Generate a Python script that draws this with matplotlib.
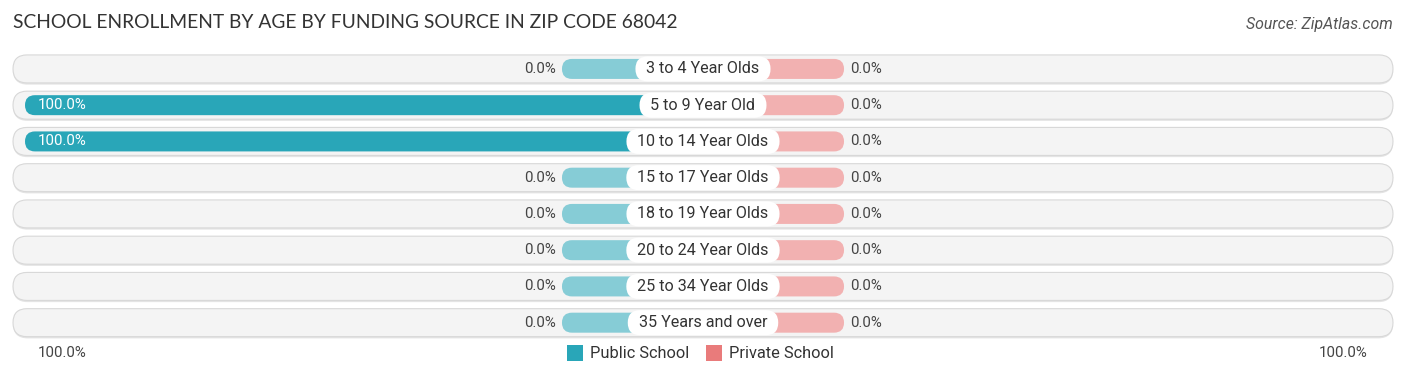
import matplotlib
matplotlib.use("Agg")
import matplotlib.pyplot as plt
from matplotlib.patches import FancyBboxPatch, Rectangle

categories = ["3 to 4 Year Olds", "5 to 9 Year Old", "10 to 14 Year Olds",
              "15 to 17 Year Olds", "18 to 19 Year Olds", "20 to 24 Year Olds",
              "25 to 34 Year Olds", "35 Years and over"]
public_vals = [0.0, 100.0, 100.0, 0.0, 0.0, 0.0, 0.0, 0.0]
private_vals = [0.0, 0.0, 0.0, 0.0, 0.0, 0.0, 0.0, 0.0]
series_names = ["Public School", "Private School"]
axis_label = "100.0%"

W, H = 1406, 377
fig = plt.figure(figsize=(W / 100, H / 100), dpi=100)
FONT = "Roboto"

cx = 703
half = 678
ax_left = (cx - half) / W
ax_w = 2 * half / W
ax_top_px, ax_bot_px = 50.8, 340.8
ax = fig.add_axes([ax_left, (H - ax_bot_px) / H, ax_w, (ax_bot_px - ax_top_px) / H])
n = len(categories)
ax.set_xlim(-100, 100)
ax.set_ylim(n - 0.5, -0.5)
ax.axis("off")

px_x = (2 * half) / 200.0           # pixels per x unit
px_y = (ax_bot_px - ax_top_px) / n  # pixels per y unit
aspect = px_x / px_y

pub_full = "#29a6b8"
pub_light = "#86ccd6"
priv_light = "#f2b1b1"
priv_full = "#e97b7b"

min_stub = 20.8  # display length for zero values (percent units)


def rbox(x0, x1, yc, h_px, fc, ec="none", lw=0, z=1, r_px=None):
    h = h_px / px_y
    if r_px is None:
        r_px = h_px / 2
    r = r_px / px_x
    p = FancyBboxPatch((x0 + r, yc - h / 2 + r * aspect), max(x1 - x0 - 2 * r, 1e-6),
                       max(h - 2 * r * aspect, 1e-6),
                       boxstyle=f"round,pad={r},rounding_size={r}",
                       mutation_aspect=aspect, fc=fc, ec=ec, lw=lw, zorder=z,
                       clip_on=False)
    ax.add_patch(p)
    return p


track_ext = 12 / px_x
for i, cat in enumerate(categories):
    # shadow + track
    rbox(-100 - track_ext, 100 + track_ext, i + 1.2 / px_y, 29, "#e4e4e4", z=0.5)
    rbox(-100 - track_ext, 100 + track_ext, i, 28, "#f4f4f4", ec="#d8d8d8", lw=0.8, z=1)

    pv = public_vals[i]
    qv = private_vals[i]
    plen = pv if pv > 0 else min_stub
    qlen = qv if qv > 0 else min_stub
    rbox(-plen, 0, i, 20, pub_full if pv > 0 else pub_light, z=2)
    rbox(0, qlen, i, 20, priv_full if qv > 0 else priv_light, z=2)

    if pv >= 50:
        ax.text(-100 + 13 / px_x, i, f"{pv:.1f}%", color="white", fontsize=10.8,
                fontfamily=FONT, ha="left", va="center", zorder=4)
    else:
        ax.text(-plen - 6 / px_x, i, f"{pv:.1f}%", color="#444444", fontsize=10.8,
                fontfamily=FONT, ha="right", va="center", zorder=4)
    ax.text(qlen + 6 / px_x, i, f"{qv:.1f}%", color="#444444", fontsize=10.8,
            fontfamily=FONT, ha="left", va="center", zorder=4)

    t = ax.text(0, i, cat, color="#333333", fontsize=11.6, fontfamily=FONT,
                ha="center", va="center", zorder=6)

fig.canvas.draw()
renderer = fig.canvas.get_renderer()
inv = ax.transData.inverted()
for txt in list(ax.texts):
    if txt.get_text() in categories:
        bb = txt.get_window_extent(renderer)
        (x0, _), (x1, _) = inv.transform([(bb.x0, bb.y0), (bb.x1, bb.y1)])
        i = categories.index(txt.get_text())
        pad = 11 / px_x
        rbox(x0 - pad, x1 + pad, i, 25, "white", z=5)

# title & source
fig.text(13 / W, 1 - 22 / H, "SCHOOL ENROLLMENT BY AGE BY FUNDING SOURCE IN ZIP CODE 68042",
         fontsize=13.9, color="#333333", fontfamily="Lato", ha="left", va="center")
fig.text(1393 / W, 1 - 24 / H, "Source: ZipAtlas.com", fontsize=11.4, color="#555555",
         fontfamily=FONT, style="italic", ha="right", va="center")

# bottom axis labels
yb = 1 - 353 / H
fig.text(38 / W, yb, axis_label, fontsize=10.8, color="#444444", fontfamily=FONT,
         ha="left", va="center")
fig.text(1368 / W, yb, axis_label, fontsize=10.8, color="#444444", fontfamily=FONT,
         ha="right", va="center")

# legend
leg_items = [(567, pub_full, series_names[0]), (706, priv_full, series_names[1])]
for x, c, lab in leg_items:
    fig.patches.append(Rectangle((x / W, 1 - 361 / H), 16 / W, 16 / H, transform=fig.transFigure,
                                 fc=c, ec="none", figure=fig))
    fig.text((x + 23) / W, yb, lab, fontsize=11.8, color="#333333", fontfamily=FONT,
             ha="left", va="center")

fig.savefig("out.png", dpi=100, facecolor="white")
